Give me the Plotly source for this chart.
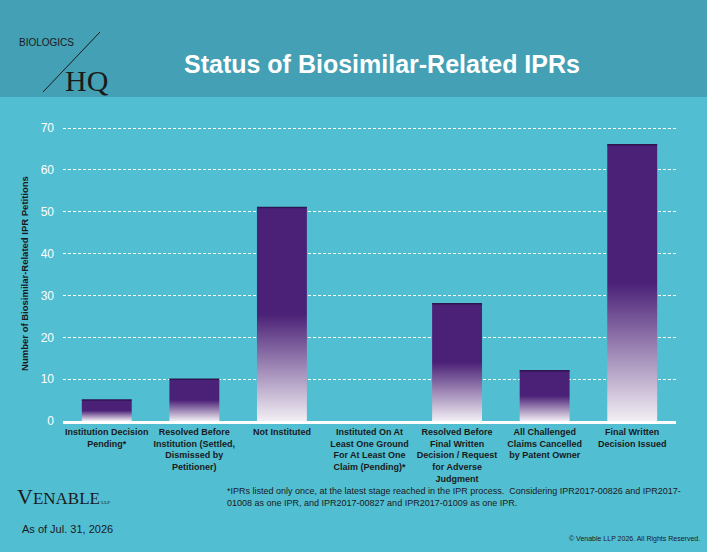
import plotly.graph_objects as go

categories = ["Institution Decision<br>Pending*",
              "Resolved Before<br>Institution (Settled,<br>Dismissed by<br>Petitioner)",
              "Not Instituted",
              "Instituted On At<br>Least One Ground<br>For At Least One<br>Claim (Pending)*",
              "Resolved Before<br>Final Written<br>Decision / Request<br>for Adverse<br>Judgment",
              "All Challenged<br>Claims Cancelled<br>by Patent Owner",
              "Final Written<br>Decision Issued"]
values = [5, 10, 51, 0, 28, 12, 66]

PURPLE = "#4B2177"
W = 0.285
T, B, L, R = 126, 131, 63, 31
PH = 552 - T - B
PW = 707 - L - R

def px(x):
    return (x - L) / PW

def py(y):
    return (552 - B - y) / PH

fig = go.Figure()
for i, v in enumerate(values):
    if v <= 0:
        continue
    fig.add_trace(go.Scatter(
        x=[i - W, i + W, i + W, i - W, i - W], y=[0, 0, v, v, 0],
        mode="lines", line=dict(width=0), fill="toself",
        fillgradient=dict(type="vertical",
                          colorscale=[[0, "#F2EEF4"], [0.5, PURPLE], [1, PURPLE]]),
        hoverinfo="skip", showlegend=False))
    fig.add_trace(go.Scatter(x=[i - W, i + W], y=[v, v], mode="lines",
                             line=dict(color="#2E1550", width=1.5),
                             hoverinfo="skip", showlegend=False))

fig.update_layout(
    width=707, height=552, margin=dict(l=L, r=R, t=T, b=B),
    paper_bgcolor="#52BED2", plot_bgcolor="#52BED2",
    font=dict(family="Arial, Liberation Sans", color="#1a1a1a"),
    xaxis=dict(range=[-0.5, 6.5], tickmode="array", tickvals=list(range(7)),
               ticktext=["<b>%s</b>" % c for c in categories],
               tickfont=dict(size=9, color="#1a1a1a"), showgrid=False,
               showline=True, linecolor="white", linewidth=3, zeroline=False,
               ticks=""),
    yaxis=dict(range=[0, 70.5], tickvals=[0, 10, 20, 30, 40, 50, 60, 70],
               gridcolor="white", griddash="3px,2px", ticklabelstandoff=8,
               gridwidth=1, tickfont=dict(size=12, color="white"), zeroline=False,
               title=dict(text="<b>Number of Biosimilar-Related IPR Petitions</b>",
                          font=dict(size=9.5, color="#1a1a1a"), standoff=10)),
    shapes=[dict(type="rect", xref="paper", yref="paper", x0=-1, x1=2,
                 y0=py(97), y1=3, fillcolor="#44A0B4", line_width=0, layer="below"),
            dict(type="line", xref="paper", yref="paper",
                 x0=px(43), x1=px(100), y0=py(92), y1=py(32),
                 line=dict(color="#1a1a1a", width=1))],
    annotations=[
        dict(text="<b>Status of Biosimilar-Related IPRs</b>", xref="paper", yref="paper",
             x=px(382), y=py(48), showarrow=False,
             font=dict(size=25, color="white")),
        dict(text="BIOLOGICS", xref="paper", yref="paper", x=px(17),
             y=py(35), xanchor="left", showarrow=False,
             font=dict(size=10, color="#1a1a1a")),
        dict(text="HQ", xref="paper", yref="paper", x=px(63),
             y=py(62), xanchor="left", showarrow=False,
             font=dict(size=30, color="#1a1a1a", family="Liberation Serif")),
        dict(text="V<span style='font-size:17px'>ENABLE</span><span style='font-size:5px'> LLP</span>",
             xref="paper", yref="paper", x=px(15), y=py(511),
             xanchor="left", showarrow=False,
             font=dict(size=22, color="#1a1a1a", family="Liberation Serif")),
        dict(text="As of Jul. 31, 2026", xref="paper", yref="paper", x=px(20),
             y=py(537), xanchor="left", showarrow=False,
             font=dict(size=11, color="#1a1a1a")),
        dict(text="*IPRs listed only once, at the latest stage reached in the IPR process.  Considering IPR2017-00826 and IPR2017-<br>01008 as one IPR, and IPR2017-00827 and IPR2017-01009 as one IPR.",
             xref="paper", yref="paper", x=px(225), y=py(510),
             xanchor="left", align="left", showarrow=False,
             font=dict(size=9, color="#1a1a1a")),
        dict(text="© Venable LLP 2026. All Rights Reserved.", xref="paper", yref="paper",
             x=px(702), y=py(545), xanchor="right", showarrow=False,
             font=dict(size=7, color="#1a1a1a")),
    ],
)
fig.write_html("out.html", config={"displayModeBar": False},
               post_script="document.body.style.margin='0';")
